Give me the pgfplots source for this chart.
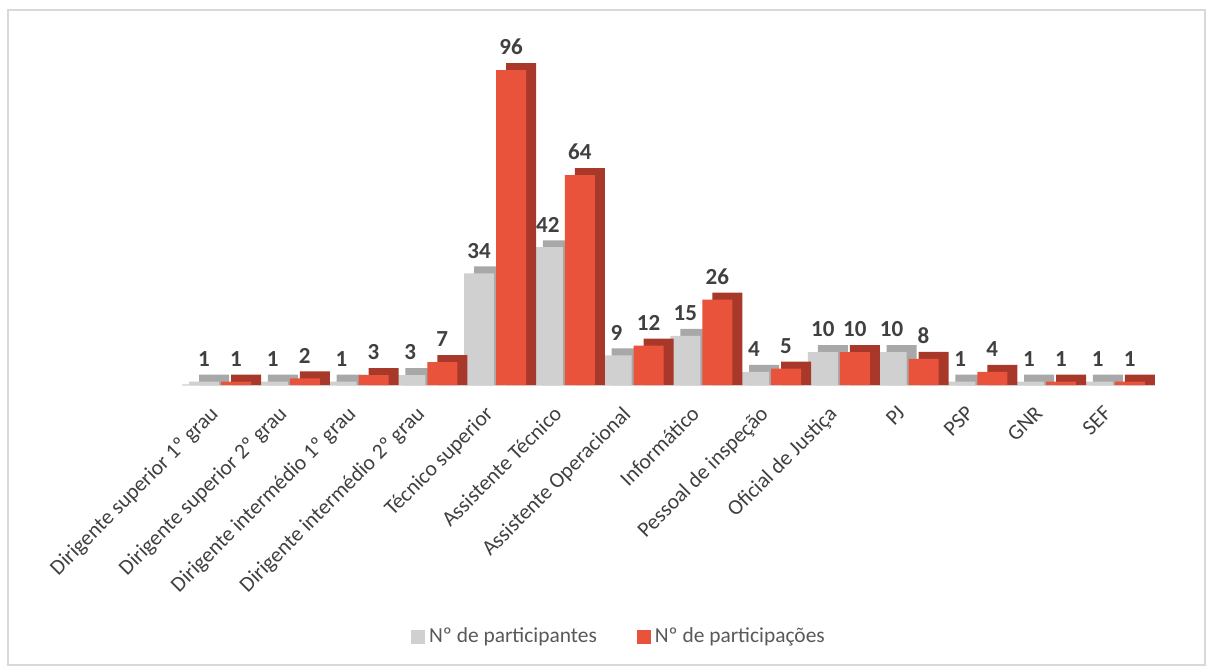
\documentclass[border=0pt]{standalone}
\usepackage{pgfplots}
\usepackage{pgfplotstable}
\pgfplotsset{compat=1.18}
\usepackage{fontspec}
\setmainfont{Carlito}
\definecolor{gfront}{HTML}{D0D0D0}
\definecolor{gside}{HTML}{A8A8A8}
\definecolor{rfront}{HTML}{E9523B}
\definecolor{rside}{HTML}{A8392A}
\definecolor{lbl}{HTML}{404040}
\definecolor{legt}{HTML}{595959}

\pgfplotstableread{
x a b
0 1 1
1 1 2
2 1 3
3 3 7
4 34 96
5 42 64
6 9 12
7 15 26
8 4 5
9 10 10
10 10 8
11 1 4
12 1 1
13 1 1
}\data

\begin{document}
\begin{tikzpicture}
\fill[white] (0pt,0pt) rectangle (605pt,335pt);
\draw[gray!30, line width=0.8pt] (4pt,2.5pt) rectangle (602.5pt,330pt);
\begin{axis}[
  at={(91.1pt,142.5pt)}, anchor=south west,
  width=486.4pt, height=164pt, scale only axis,
  xmin=-0.55, xmax=13.6, ymin=0, ymax=100,
  ybar, bar width=15pt,
  axis y line=none, axis x line*=bottom,
  x axis line style={gray!25, line width=1pt, -},
  xtick={0,...,13},
  xticklabels={Dirigente superior 1º grau, Dirigente superior 2º grau, Dirigente intermédio 1º grau, Dirigente intermédio 2º grau, Técnico superior, Assistente Técnico, Assistente Operacional, Informático, Pessoal de inspeção, Oficial de Justiça, PJ, PSP, GNR, SEF},
  xticklabel style={rotate=45, anchor=north east, font=\fontsize{10.8}{12}\selectfont, text=lbl, xshift=-7.5pt, yshift=0.5pt},
  major tick length=0pt,
  clip=false,
  /pgf/number format/assume math mode=true,
  legend style={at={(0.45,-0.768)}, anchor=center, draw=none, fill=none,
    legend columns=2, font=\fontsize{10.7}{12}\selectfont, text=legt,
    /tikz/every even column/.append style={column sep=18pt}},
  legend image code/.code={\path[#1, draw=none] (0pt,-3.5pt) rectangle (7pt,3.5pt);},
  nodes near coords style={font=\bfseries\fontsize{11.5}{13}\selectfont, text=lbl, yshift=4pt},
]
\addplot[fill=gside, draw=none, bar shift=-8pt, xshift=5pt, forget plot] table[x=x,y expr=\thisrow{a}+2.13]{\data};
\addplot[fill=gfront, draw=none, bar shift=-8pt, nodes near coords] table[x=x,y=a]{\data};
\addplot[fill=rside, draw=none, bar shift=8pt, xshift=5pt, forget plot] table[x=x,y expr=\thisrow{b}+2.13]{\data};
\addplot[fill=rfront, draw=none, bar shift=8pt, nodes near coords] table[x=x,y=b]{\data};
\legend{Nº de participantes, Nº de participações}
\end{axis}
\end{tikzpicture}
\end{document}
